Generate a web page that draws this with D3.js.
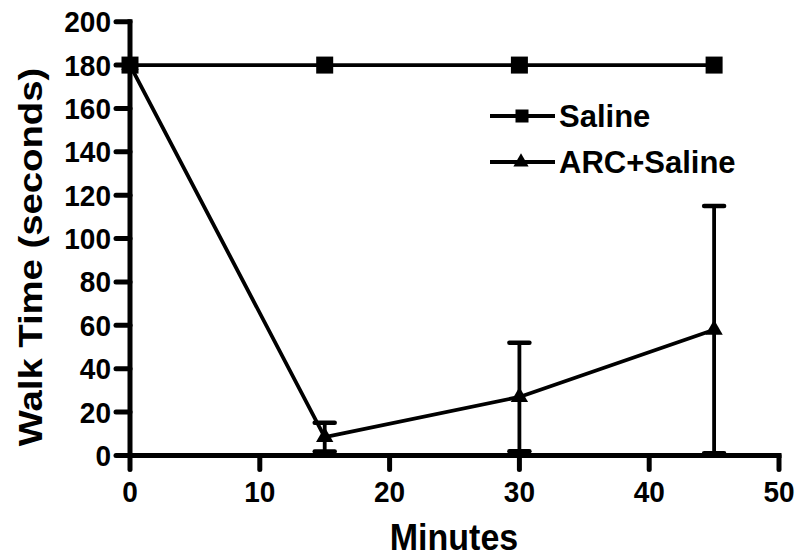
<!DOCTYPE html>
<html>
<head>
<meta charset="utf-8">
<script src="https://cdn.jsdelivr.net/npm/d3@7"></script>
<style>
  html, body { margin: 0; padding: 0; background: #fff; }
  svg text { font-family: "Liberation Sans", Arial, sans-serif; font-weight: bold; fill: #000; }
</style>
</head>
<body>
<svg id="chart" width="803" height="558"></svg>
<script>
// ---- data ----
const minutes = [0, 15, 30, 45];
const salineMean = [180, 180, 180, 180];
const arcMean = [180, 8.5, 27, 58];
const arcErr = [0, 6.6, 25, 57];
const xTicks = [0, 10, 20, 30, 40, 50];
const yTicks = [0, 20, 40, 60, 80, 100, 120, 140, 160, 180, 200];
const seriesNames = ["Saline", "ARC+Saline"];
const xTitle = "Minutes";
const yTitle = "Walk Time (seconds)";

const svg = d3.select("#chart");
const x = d3.scaleLinear().domain([0, 50]).range([130, 779]);
const y = d3.scaleLinear().domain([0, 200]).range([455.5, 21.7]);

const g = svg.append("g");

// axes
const axW = 5, tickLen = 14;
g.append("line").attr("x1", x(0)).attr("x2", x(0)).attr("y1", y(200)).attr("y2", y(0))
  .attr("stroke", "#000").attr("stroke-width", axW).attr("stroke-linecap", "square");
g.append("line").attr("x1", x(0)).attr("x2", x(50)).attr("y1", y(0)).attr("y2", y(0))
  .attr("stroke", "#000").attr("stroke-width", axW).attr("stroke-linecap", "square");

yTicks.forEach(t => {
  g.append("line").attr("x1", x(0) - tickLen).attr("x2", x(0)).attr("y1", y(t)).attr("y2", y(t))
    .attr("stroke", "#000").attr("stroke-width", axW).attr("stroke-linecap", "round");
  g.append("text").attr("transform", `translate(${x(0) - 19},${y(t) + 10.5}) scale(1,1.08)`)
    .attr("text-anchor", "end").attr("font-size", 28).text(t);
});
xTicks.forEach(t => {
  g.append("line").attr("x1", x(t)).attr("x2", x(t)).attr("y1", y(0)).attr("y2", y(0) + tickLen)
    .attr("stroke", "#000").attr("stroke-width", axW).attr("stroke-linecap", "round");
  g.append("text").attr("transform", `translate(${x(t)},${501.5}) scale(1,1.08)`)
    .attr("text-anchor", "middle").attr("font-size", 28).text(t);
});

// titles
g.append("text").attr("transform", `translate(454,549.5) scale(1,1.1)`)
  .attr("text-anchor", "middle").attr("font-size", 34).text(xTitle);
g.append("text").attr("transform", `translate(42,257) rotate(-90) scale(1.16,1)`)
  .attr("text-anchor", "middle").attr("font-size", 33).text(yTitle);

// ARC+Saline error bars
const capW = 20;
minutes.forEach((m, i) => {
  if (!arcErr[i]) return;
  const top = arcMean[i] + arcErr[i];
  const bot = Math.max(0, arcMean[i] - arcErr[i]);
  g.append("line").attr("x1", x(m)).attr("x2", x(m)).attr("y1", y(top)).attr("y2", y(bot))
    .attr("stroke", "#000").attr("stroke-width", 3.8);
  [top, bot].forEach(v => {
    g.append("line").attr("x1", x(m) - capW / 2).attr("x2", x(m) + capW / 2).attr("y1", y(v)).attr("y2", y(v))
      .attr("stroke", "#000").attr("stroke-width", 4.5).attr("stroke-linecap", "round");
  });
});

const line = d3.line().x(d => x(d[0])).y(d => y(d[1]));
// ARC+Saline line
g.append("path").datum(minutes.map((m, i) => [m, arcMean[i]])).attr("d", line)
  .attr("fill", "none").attr("stroke", "#000").attr("stroke-width", 3.8).attr("stroke-linejoin", "round");
const tri = d3.symbol().type(d3.symbolTriangle).size(130);
minutes.forEach((m, i) => {
  g.append("path").attr("d", tri).attr("transform", `translate(${x(m)},${y(arcMean[i])})`).attr("fill", "#000");
});

// Saline line
g.append("path").datum(minutes.map((m, i) => [m, salineMean[i]])).attr("d", line)
  .attr("fill", "none").attr("stroke", "#000").attr("stroke-width", 3.8);
const sq = 17;
minutes.forEach((m, i) => {
  g.append("rect").attr("x", x(m) - sq / 2).attr("y", y(salineMean[i]) - sq / 2)
    .attr("width", sq).attr("height", sq).attr("fill", "#000");
});

// legend
const legY = [116, 162];
seriesNames.forEach((name, i) => {
  g.append("line").attr("x1", 490).attr("x2", 555).attr("y1", legY[i]).attr("y2", legY[i])
    .attr("stroke", "#000").attr("stroke-width", 3.8);
  if (i === 0) {
    g.append("rect").attr("x", 522 - 6.5).attr("y", legY[i] - 6.5).attr("width", 13).attr("height", 13).attr("fill", "#000");
  } else {
    g.append("path").attr("d", d3.symbol().type(d3.symbolTriangle).size(100))
      .attr("transform", `translate(521,${legY[i]})`).attr("fill", "#000");
  }
  g.append("text").attr("x", 559).attr("y", legY[i] + 11).attr("font-size", 31).text(name);
});
</script>
</body>
</html>
